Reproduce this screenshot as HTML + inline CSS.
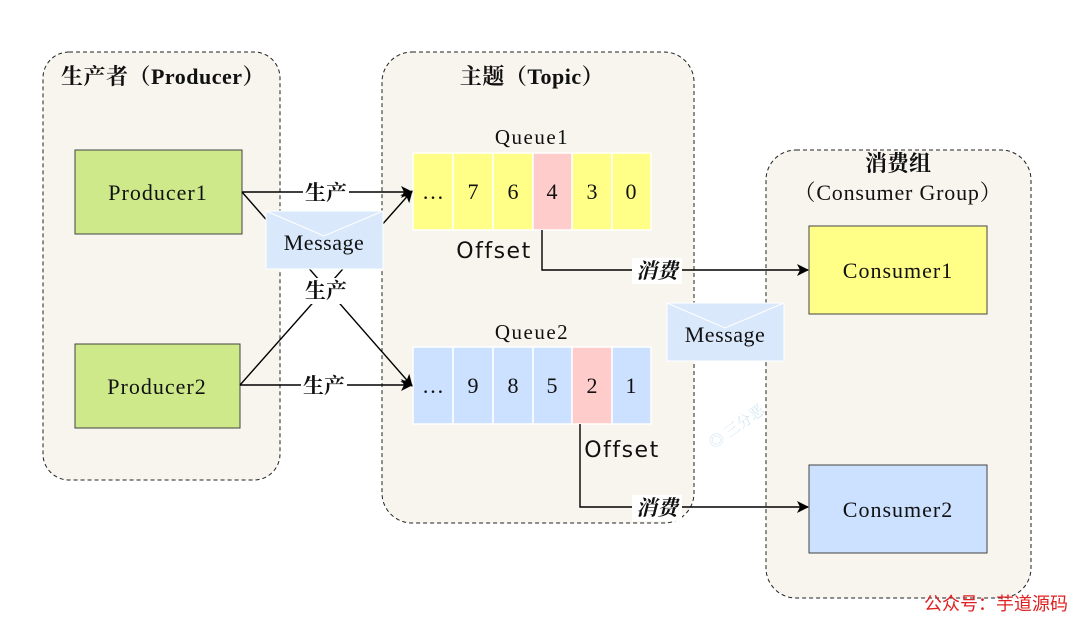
<!DOCTYPE html>
<html><head><meta charset="utf-8"><style>
html,body{margin:0;padding:0;background:#fff;}
svg{display:block;}
text{font-family:"Liberation Serif","Noto Serif CJK SC",serif;fill:#111;}
</style></head><body>
<svg width="1080" height="623" viewBox="0 0 1080 623" xmlns="http://www.w3.org/2000/svg">
<defs>
<marker id="a" markerWidth="12" markerHeight="12" refX="11" refY="6" orient="auto" markerUnits="userSpaceOnUse">
<path d="M0,0 L12,6 L0,12 L3,6 z" fill="#000"/></marker>
</defs>
<rect x="43" y="52" width="237" height="428" rx="26" fill="#f7f5ee" stroke="#222" stroke-dasharray="4,3"/>
<rect x="382" y="52" width="312" height="471" rx="30" fill="#f7f5ee" stroke="#222" stroke-dasharray="4,3"/>
<rect x="766" y="150" width="265" height="448" rx="30" fill="#f7f5ee" stroke="#222" stroke-dasharray="4,3"/>
<text x="163" y="84" font-size="22" font-weight="bold" text-anchor="middle" letter-spacing="0.5">生产者（Producer）</text>
<text x="532" y="84" font-size="22" font-weight="bold" text-anchor="middle" letter-spacing="0.5">主题（Topic）</text>
<text x="898" y="171" font-size="22" font-weight="bold" text-anchor="middle">消费组</text>
<text x="898" y="200" font-size="22" text-anchor="middle" letter-spacing="0.8">（Consumer Group）</text>
<rect x="75" y="150" width="167" height="84" fill="#cde98a" stroke="#444"/>
<text x="158" y="200" font-size="22" text-anchor="middle" letter-spacing="1">Producer1</text>
<rect x="75" y="344" width="165" height="84" fill="#cde98a" stroke="#444"/>
<text x="157" y="394" font-size="22" text-anchor="middle" letter-spacing="1">Producer2</text>
<rect x="809" y="226" width="178" height="88" fill="#ffff88" stroke="#444"/>
<text x="898" y="278" font-size="22" text-anchor="middle" letter-spacing="1">Consumer1</text>
<rect x="809" y="465" width="178" height="88" fill="#cce0ff" stroke="#444"/>
<text x="898" y="517" font-size="22" text-anchor="middle" letter-spacing="1">Consumer2</text>
<text x="532" y="144" font-size="21" text-anchor="middle" letter-spacing="1.5">Queue1</text>
<text x="532" y="339" font-size="21" text-anchor="middle" letter-spacing="1.5">Queue2</text>
<g stroke="#fff" stroke-width="1.5">
<rect x="413" y="153" width="40" height="77" fill="#ffff88"/>
<rect x="453" y="153" width="40" height="77" fill="#ffff88"/>
<rect x="493" y="153" width="40" height="77" fill="#ffff88"/>
<rect x="533" y="153" width="39" height="77" fill="#ffcccc"/>
<rect x="572" y="153" width="40" height="77" fill="#ffff88"/>
<rect x="612" y="153" width="39" height="77" fill="#ffff88"/>
<rect x="413" y="347" width="40" height="77" fill="#cce0ff"/>
<rect x="453" y="347" width="40" height="77" fill="#cce0ff"/>
<rect x="493" y="347" width="40" height="77" fill="#cce0ff"/>
<rect x="533" y="347" width="39" height="77" fill="#cce0ff"/>
<rect x="572" y="347" width="40" height="77" fill="#ffcccc"/>
<rect x="612" y="347" width="39" height="77" fill="#cce0ff"/>
</g>
<g font-size="22" text-anchor="middle">
<text x="433" y="199">…</text><text x="473" y="199">7</text><text x="513" y="199">6</text><text x="552" y="199">4</text><text x="592" y="199">3</text><text x="631" y="199">0</text>
<text x="433" y="393">…</text><text x="473" y="393">9</text><text x="513" y="393">8</text><text x="552" y="393">5</text><text x="592" y="393">2</text><text x="631" y="393">1</text>
</g>
<text x="494" y="258" font-size="22" text-anchor="middle" letter-spacing="1.5" style="font-family:'DejaVu Sans','Liberation Sans',sans-serif">Offset</text>
<text x="622" y="457" font-size="22" text-anchor="middle" letter-spacing="1.5" style="font-family:'DejaVu Sans','Liberation Sans',sans-serif">Offset</text>
<g stroke="#000" stroke-width="1.4" fill="none">
<line x1="242" y1="192" x2="412" y2="192" marker-end="url(#a)"/>
<line x1="242" y1="192" x2="412" y2="386" marker-end="url(#a)"/>
<line x1="240" y1="385" x2="412" y2="191" marker-end="url(#a)"/>
<line x1="240" y1="385" x2="412" y2="385" marker-end="url(#a)"/>
<polyline points="542,230 542,270 808,270" marker-end="url(#a)"/>
<polyline points="580,424 580,507 808,507" marker-end="url(#a)"/>
</g>
<rect x="266" y="211" width="117" height="58" fill="#dae8fc" stroke="#fff"/>
<polyline points="266,211 324,236 383,211" fill="none" stroke="#fff"/>
<text x="324" y="250" font-size="22" text-anchor="middle" letter-spacing="0.5">Message</text>
<rect x="667" y="303" width="117" height="58" fill="#dae8fc" stroke="#fff"/>
<polyline points="667,303 725,328 784,303" fill="none" stroke="#fff"/>
<text x="725" y="342" font-size="22" text-anchor="middle" letter-spacing="0.5">Message</text>
<g font-size="21" text-anchor="middle" font-weight="bold">
<rect x="303" y="180" width="46" height="24" fill="#fff"/><text x="326" y="200">生产</text>
<rect x="303" y="278" width="46" height="26" fill="#fff"/><text x="326" y="298">生产</text>
<rect x="301" y="373" width="46" height="24" fill="#fff"/><text x="324" y="393">生产</text>
<rect x="632" y="258" width="50" height="26" fill="#fff"/><text x="657" y="278" font-style="italic">消费</text>
<rect x="632" y="495" width="50" height="26" fill="#fff"/><text x="657" y="515" font-style="italic">消费</text>
</g>
<text x="698" y="440" font-size="15" transform="rotate(-35 720 420)" style="fill:#d4e6f3">◎ 三分恶</text>
<text x="1068" y="610" font-size="18" text-anchor="end" style="fill:#e02020;font-family:'Liberation Sans','Noto Sans CJK SC',sans-serif">公众号：芋道源码</text>
</svg>
</body></html>
